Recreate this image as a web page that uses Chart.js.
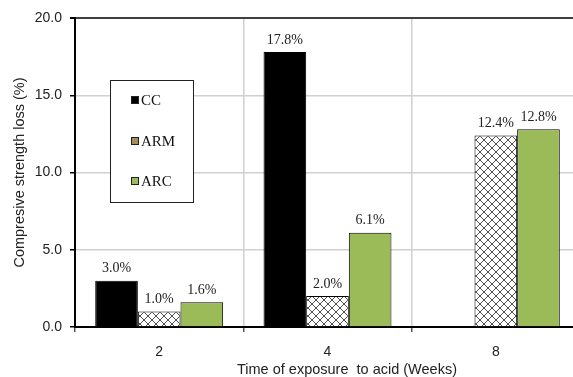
<!DOCTYPE html>
<html>
<head>
<meta charset="utf-8">
<script src="https://cdn.jsdelivr.net/npm/chart.js@4"></script>
<style>
  html, body { margin: 0; padding: 0; background: #fff; overflow: hidden; }
  #wrap { width: 580px; height: 377px; }
</style>
</head>
<body>
<div id="wrap"><canvas id="canvas" width="580" height="377"></canvas></div>
<script>
// chart data
var weeks = ['2', '4', '8'];
var seriesNames = ['CC', 'ARM', 'ARC'];
var ccLoss = [3.0, 17.8, null];
var armLoss = [1.0, 2.0, 12.4];
var arcLoss = [1.6, 6.1, 12.8];
var yTicks = [0, 5, 10, 15, 20];
var xTitle = 'Time of exposure  to acid (Weeks)';

// hatch pattern for ARM
function makeHatch() {
  var c = document.createElement('canvas');
  c.width = 8; c.height = 8;
  var g = c.getContext('2d');
  g.fillStyle = '#fff';
  g.fillRect(0, 0, 8, 8);
  g.strokeStyle = '#222';
  g.lineWidth = 0.8;
  g.beginPath();
  g.moveTo(0, 0); g.lineTo(8, 8);
  g.moveTo(8, 0); g.lineTo(0, 8);
  g.stroke();
  return g.createPattern(c, 'repeat');
}

var ctx = document.getElementById('canvas').getContext('2d');
var hatch = makeHatch();

// swatch colours shown in the box legend
var legendColors = ['#000000', '#a58a5c', '#9bbb59'];

// value labels above bars
var valueLabels = {
  id: 'valueLabels',
  afterDatasetsDraw: function(chart) {
    var c = chart.ctx;
    c.save();
    c.font = '14px "Liberation Serif"';
    c.fillStyle = '#222';
    c.textAlign = 'center';
    c.textBaseline = 'bottom';
    chart.data.datasets.forEach(function(ds, i) {
      var meta = chart.getDatasetMeta(i);
      meta.data.forEach(function(bar, j) {
        var v = ds.data[j];
        if (v === null || v === undefined) return;
        c.fillText(v.toFixed(1) + '%', bar.x, bar.y - 5);
      });
    });
    c.restore();
  }
};

// boxed legend inside the plot + x title (sits a bit right of centre)
var boxLegend = {
  id: 'boxLegend',
  afterDatasetsDraw: function(chart) {
    var c = chart.ctx;
    c.save();
    c.fillStyle = '#fff';
    c.fillRect(110, 80, 83, 122);
    c.strokeStyle = '#222';
    c.lineWidth = 1;
    c.strokeRect(110.5, 80.5, 83, 122);
    c.font = '15px "Liberation Serif"';
    c.textBaseline = 'middle';
    c.textAlign = 'left';
    var ys = [100, 141, 181];
    chart.data.datasets.forEach(function(ds, i) {
      c.fillStyle = legendColors[i];
      c.fillRect(131, ys[i] - 4, 8, 8);
      c.strokeStyle = '#222';
      c.strokeRect(131.5, ys[i] - 3.5, 7, 7);
      c.fillStyle = '#111';
      c.fillText(ds.label, 141, ys[i] + 1);
    });
    c.font = '14.5px "Liberation Sans"';
    c.fillStyle = '#222';
    c.textAlign = 'center';
    c.fillText(xTitle, 347, 370);
    c.restore();
  }
};

var config = {
  type: 'bar',
  data: {
    labels: weeks,
    datasets: [
      { label: seriesNames[0], data: ccLoss, backgroundColor: '#000', borderColor: '#000', borderWidth: 1 },
      { label: seriesNames[1], data: armLoss, backgroundColor: hatch, borderColor: '#000', borderWidth: 1 },
      { label: seriesNames[2], data: arcLoss, backgroundColor: '#9bbb59', borderColor: '#000', borderWidth: 1 }
    ]
  },
  options: {
    responsive: false,
    animation: false,
    layout: { padding: { top: 18, right: 0, left: 0, bottom: 0 } },
    categoryPercentage: 0.76,
    barPercentage: 1.0,
    plugins: {
      legend: { display: false },
      tooltip: { enabled: false }
    },
    scales: {
      x: {
        grid: { color: '#d0d0d0', lineWidth: 1.5, tickLength: 5, offset: true, tickColor: '#555' },
        border: { color: '#000', width: 2 },
        ticks: { color: '#222', font: { family: 'Liberation Sans', size: 14 }, padding: 12 },
        title: { display: false },
        afterFit: function(s) { s.height = 50; }
      },
      y: {
        min: 0,
        max: 20,
        afterBuildTicks: function(s) { s.ticks = yTicks.map(function(v) { return { value: v }; }); },
        grid: {
          color: function(c) { return c.tick && c.tick.value === 20 ? '#404040' : '#d0d0d0'; },
          lineWidth: function(c) { return c.tick && c.tick.value === 20 ? 2 : 1.5; },
          tickColor: '#000',
          tickLength: 5
        },
        border: { color: '#000', width: 2 },
        ticks: {
          color: '#222',
          font: { family: 'Liberation Sans', size: 14 },
          padding: 8,
          callback: function(v) { return v.toFixed(1); }
        },
        title: { display: true, text: 'Compresive strength loss (%)', color: '#222',
                 font: { family: 'Liberation Sans', size: 14.5 }, padding: { top: 11, bottom: 0 } },
        afterFit: function(s) { s.width = 75; }
      }
    }
  },
  plugins: [valueLabels, boxLegend]
};

window.myBar = new Chart(ctx, config);
</script>
</body>
</html>
